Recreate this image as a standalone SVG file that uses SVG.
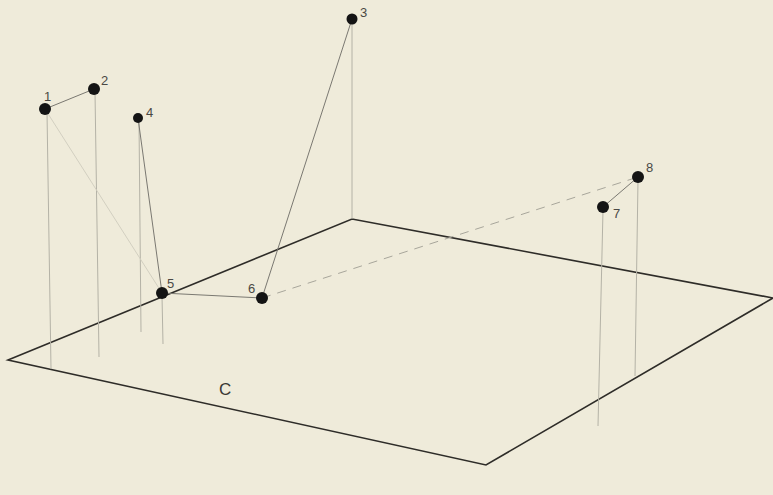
<svg xmlns="http://www.w3.org/2000/svg" width="773" height="495" viewBox="0 0 773 495">
<style>
.bg{fill:#efebda}
.plane{fill:none;stroke:#2e2c28;stroke-width:1.6;stroke-linejoin:miter}
.drop{stroke:#b4b2a6;stroke-width:1;fill:none}
.edge{stroke:#7a7871;stroke-width:1;fill:none}
.faint{stroke:#d2cfc0;stroke-width:1;fill:none}
.dash{stroke:#a8a69b;stroke-width:1;fill:none;stroke-dasharray:9 7}
.node{fill:#141414}
.lbl{font-family:"Liberation Sans",Arial,sans-serif;font-size:13px;fill:#4a4844}
.big{font-family:"Liberation Sans",Arial,sans-serif;font-size:17px;fill:#3a3834}
</style>
<rect class="bg" x="0" y="0" width="773" height="495"/>
<g id="plane">
<polygon class="plane" points="8,360 352,219 773,298 486,465"/>
<text class="big" x="219" y="395">C</text>
</g>
<g id="connectors">
<line class="drop" x1="47" y1="112" x2="51" y2="369"/>
<line class="drop" x1="95" y1="92" x2="99" y2="357"/>
<line class="drop" x1="139" y1="121" x2="141" y2="332"/>
<line class="drop" x1="162" y1="296" x2="163" y2="344"/>
<line class="drop" x1="352" y1="22" x2="352" y2="219"/>
<line class="drop" x1="603" y1="210" x2="598" y2="426"/>
<line class="drop" x1="638" y1="180" x2="635" y2="376"/>
<line class="edge" x1="45" y1="109" x2="94" y2="89"/>
<line class="faint" x1="45" y1="109" x2="162" y2="293"/>
<line class="edge" x1="138" y1="118" x2="162" y2="293"/>
<line class="edge" x1="162" y1="293" x2="262" y2="298"/>
<line class="edge" x1="262" y1="298" x2="352" y2="19"/>
<line class="dash" x1="262" y1="298" x2="638" y2="177"/>
<line class="edge" x1="603" y1="207" x2="638" y2="177"/>
</g>
<g id="n1"><circle class="node" cx="45" cy="109" r="6"/><text class="lbl" x="44" y="101">1</text></g>
<g id="n2"><circle class="node" cx="94" cy="89" r="6"/><text class="lbl" x="101" y="85">2</text></g>
<g id="n3"><circle class="node" cx="352" cy="19" r="5.5"/><text class="lbl" x="360" y="17">3</text></g>
<g id="n4"><circle class="node" cx="138" cy="118" r="5"/><text class="lbl" x="146" y="117">4</text></g>
<g id="n5"><circle class="node" cx="162" cy="293" r="6"/><text class="lbl" x="167" y="288">5</text></g>
<g id="n6"><circle class="node" cx="262" cy="298" r="6"/><text class="lbl" x="248" y="293">6</text></g>
<g id="n7"><circle class="node" cx="603" cy="207" r="6"/><text class="lbl" x="613" y="218">7</text></g>
<g id="n8"><circle class="node" cx="638" cy="177" r="6"/><text class="lbl" x="646" y="172">8</text></g>
</svg>
